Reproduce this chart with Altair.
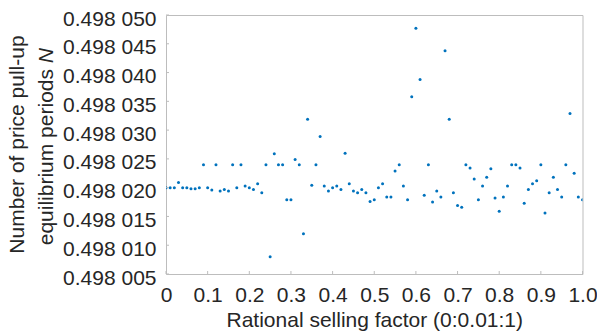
import altair as alt
import pandas as pd

# Rational selling factor 0:0.01:1
factor = [round(i * 0.01, 2) for i in range(101)]

# Number of price pull-up equilibrium periods N
periods = [
    0.4980200, 0.4980200, 0.4980200, 0.4980209, 0.4980200, 0.4980200, 0.4980198, 0.4980198, 0.4980200, 0.4980240,
    0.4980200, 0.4980196, 0.4980240, 0.4980194, 0.4980197, 0.4980194, 0.4980240, 0.4980200, 0.4980240, 0.4980203,
    0.4980200, 0.4980197, 0.4980207, 0.4980191, 0.4980240, 0.4980080, 0.4980259, 0.4980240, 0.4980240, 0.4980179,
    0.4980179, 0.4980249, 0.4980240, 0.4980120, 0.4980319, 0.4980204, 0.4980240, 0.4980289, 0.4980203, 0.4980194,
    0.4980200, 0.4980203, 0.4980197, 0.4980260, 0.4980207, 0.4980194, 0.4980191, 0.4980197, 0.4980191, 0.4980176,
    0.4980179, 0.4980200, 0.4980207, 0.4980184, 0.4980184, 0.4980229, 0.4980240, 0.4980203, 0.4980179, 0.4980358,
    0.4980477, 0.4980388, 0.4980187, 0.4980240, 0.4980175, 0.4980194, 0.4980184, 0.4980438, 0.4980319, 0.4980191,
    0.4980169, 0.4980166, 0.4980240, 0.4980234, 0.4980215, 0.4980179, 0.4980203, 0.4980218, 0.4980233, 0.4980182,
    0.4980159, 0.4980184, 0.4980203, 0.4980240, 0.4980240, 0.4980234, 0.4980173, 0.4980197, 0.4980207, 0.4980212,
    0.4980240, 0.4980156, 0.4980191, 0.4980218, 0.4980197, 0.4980184, 0.4980240, 0.4980329, 0.4980225, 0.4980184,
    0.4980179,
]

x_ticks = [0, 0.1, 0.2, 0.3, 0.4, 0.5, 0.6, 0.7, 0.8, 0.9, 1.0]
y_ticks = [0.498005, 0.498010, 0.498015, 0.498020, 0.498025,
           0.498030, 0.498035, 0.498040, 0.498045, 0.498050]

W, H = 416.5, 259
FONT = "Liberation Sans"
FS = 21
TXT = "#262626"
FRAME = "#bdbdbd"

df = pd.DataFrame({"factor": factor, "periods": periods})
xt = pd.DataFrame({"factor": x_ticks})
yt = pd.DataFrame({"periods": y_ticks})

xscale = alt.Scale(domain=[0, 1], nice=False, zero=False)
yscale = alt.Scale(domain=[0.498005, 0.498050], nice=False, zero=False)

x_axis = alt.Axis(values=x_ticks,
                  labelExpr="datum.value == 0 ? '0' : format(datum.value, '.1f')",
                  ticks=False, tickSize=0, domain=False, grid=False,
                  labelPadding=10.5, labelFlush=False, labelOverlap=False,
                  title="Rational selling factor (0:0.01:1)", titlePadding=4)
y_axis = alt.Axis(values=y_ticks,
                  labelExpr="substring(format(datum.value, '.6f'), 0, 5) + ' ' + substring(format(datum.value, '.6f'), 5)",
                  ticks=False, tickSize=0, domain=False, grid=False,
                  labelPadding=10, labelOffset=4, labelOverlap=False,
                  title=None)

points = alt.Chart(df).mark_circle(size=9, color="#0072BD", opacity=1, clip=True).encode(
    x=alt.X("factor:Q", scale=xscale, axis=x_axis),
    y=alt.Y("periods:Q", scale=yscale, axis=y_axis),
)

xtick_rules = alt.Chart(xt).mark_rule(color=FRAME, strokeWidth=1).encode(
    x=alt.X("factor:Q", scale=xscale, axis=x_axis), y=alt.value(H), y2=alt.value(H - 3))
ytick_rules = alt.Chart(yt).mark_rule(color=FRAME, strokeWidth=1).encode(
    y=alt.Y("periods:Q", scale=yscale, axis=y_axis), x=alt.value(0), x2=alt.value(3))

tdf = pd.DataFrame({"a": [0]})
t1 = alt.Chart(tdf).mark_text(angle=270, align="center", baseline="alphabetic",
                              font=FONT, fontSize=FS, color=TXT).encode(
    x=alt.value(-142), y=alt.value(H / 2), text=alt.value("Number of price pull-up"))
t2 = alt.Chart(tdf).mark_text(angle=270, align="right", baseline="alphabetic",
                              font=FONT, fontSize=FS, color=TXT).encode(
    x=alt.value(-113), y=alt.value(54), text=alt.value("equilibrium periods"))
t3 = alt.Chart(tdf).mark_text(angle=270, align="left", baseline="alphabetic",
                              font=FONT, fontSize=FS, fontStyle="italic", color=TXT).encode(
    x=alt.value(-113), y=alt.value(48.2), text=alt.value("N"))

chart = alt.layer(points, xtick_rules, ytick_rules, t1, t2, t3).properties(
    width=W, height=H,
    autosize=alt.AutoSizeParams(type="none"),
    padding={"left": 166, "top": 15, "right": 14.5, "bottom": 60},
    background="white",
).configure_view(
    stroke=FRAME, strokeWidth=1
).configure_axis(
    labelFont=FONT, labelFontSize=FS, labelColor=TXT,
    titleFont=FONT, titleFontSize=FS, titleColor=TXT, titleFontWeight="normal",
)

chart.save("out.html", embed_options={"renderer": "svg", "actions": False})
